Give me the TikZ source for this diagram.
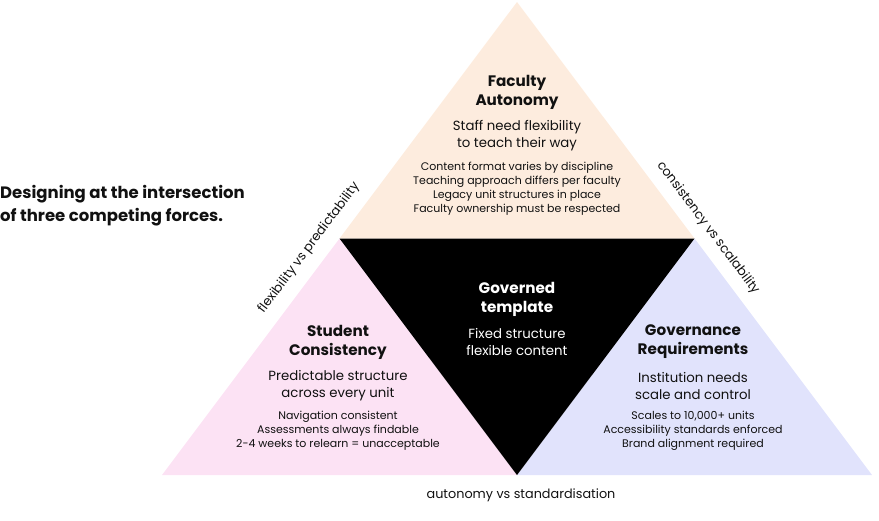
\documentclass[tikz,border=0pt]{standalone}
\usepackage{fontspec}
\setmainfont{Poppins}
\definecolor{peach}{RGB}{253,236,222}
\definecolor{pinkf}{RGB}{252,226,244}
\definecolor{lav}{RGB}{225,227,252}
\definecolor{ink}{RGB}{17,17,17}
\begin{document}
\begin{tikzpicture}[x=1pt,y=-1pt,
  ttl/.style={font=\bfseries\fontsize{15.2}{19}\selectfont, align=center, text=ink, inner sep=0pt},
  sub/.style={font=\fontsize{13.3}{17}\selectfont, align=center, text=ink, inner sep=0pt},
  det/.style={font=\fontsize{11}{14}\selectfont, align=center, text=ink, inner sep=0pt},
  edgelbl/.style={font=\fontsize{12.8}{14}\selectfont, text=ink, inner sep=0pt}]
\useasboundingbox (0,0) rectangle (879,520);
\coordinate (Ap) at (517,2);
\coordinate (BL) at (162,475);
\coordinate (BR) at (872,475);
\coordinate (ML) at (339.5,238.5);
\coordinate (MR) at (694.5,238.5);
\coordinate (MB) at (517,475);
\fill[peach] (Ap) -- (ML) -- (MR) -- cycle;
\fill[pinkf] (ML) -- (BL) -- (MB) -- cycle;
\fill[lav] (MR) -- (MB) -- (BR) -- cycle;
\fill[black] (ML) -- (MR) -- (MB) -- cycle;

\node[anchor=west, font=\bfseries\fontsize{16.5}{23}\selectfont, align=left, inner sep=0pt, text=ink] (head) at (0,205.5)
  {Designing at the intersection\\of three competing forces.};

% top
\node[ttl] (fa) at (517,92) {Faculty\\Autonomy};
\node[sub] (fas) at (517,135.5) {Staff need flexibility\\to teach their way};
\node[det] (fad) at (517,188.5) {Content format varies by discipline\\Teaching approach differs per faculty\\Legacy unit structures in place\\Faculty ownership must be respected};

% center
\node[ttl, text=white] (gt) at (517,299) {Governed\\template};
\node[sub, text=white] (gts) at (517,341.5) {Fixed structure\\flexible content};

% left
\node[ttl] (sc) at (338,342) {Student\\Consistency};
\node[sub] (scs) at (338,385.5) {Predictable structure\\across every unit};
\node[det] (scd) at (338,431) {Navigation consistent\\Assessments always findable\\2-4 weeks to relearn = unacceptable};

% right
\node[ttl] (gr) at (693,342) {Governance\\Requirements};
\node[sub] (grs) at (693,385.5) {Institution needs\\scale and control};
\node[det] (grd) at (693,431) {Scales to 10,000+ units\\Accessibility standards enforced\\Brand alignment required};

% edge labels
\node[edgelbl, rotate=53.13] (e1) at (309,248) {flexibility vs predictability};
\node[edgelbl, rotate=-53.13] (e2) at (708,228) {consistency vs scalability};
\node[edgelbl] (e3) at (521,495) {autonomy vs standardisation};
\end{tikzpicture}
\end{document}
